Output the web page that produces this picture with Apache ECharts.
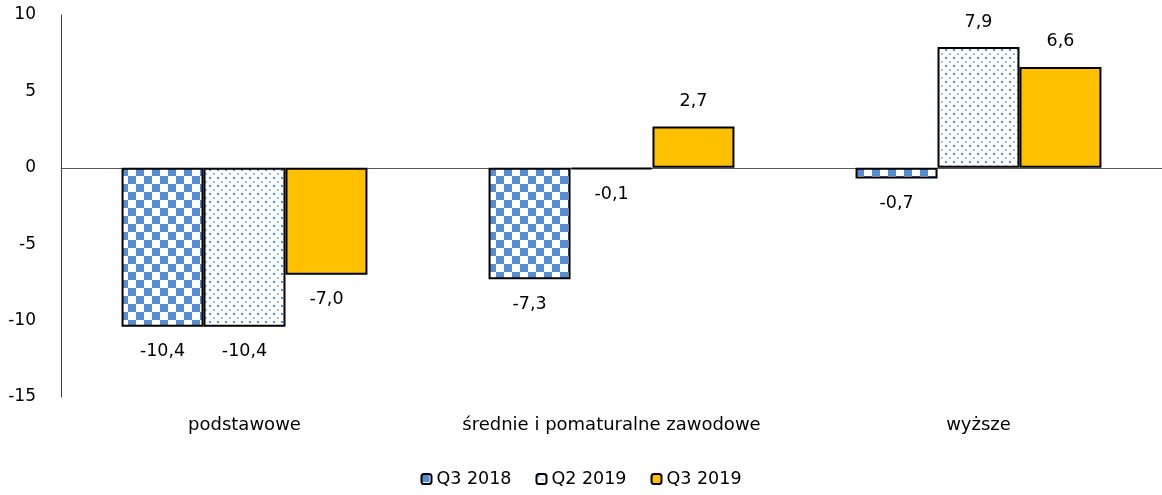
<!DOCTYPE html>
<html>
<head>
<meta charset="utf-8">
<script src="https://cdn.jsdelivr.net/npm/echarts@6/dist/echarts.min.js"></script>
<style>
  html, body { margin: 0; padding: 0; background: #fff; }
  #chart { width: 1162px; height: 495px; }
</style>
</head>
<body>
<div id="chart"></div>
<script>
const categories = ['podstawowe', 'średnie i pomaturalne zawodowe', 'wyższe']
const seriesNames = ['Q3 2018', 'Q2 2019', 'Q3 2019']
const q3_2018 = [-10.4, -7.3, -0.7]
const q2_2019 = [-10.4, -0.1, 7.9]
const q3_2019 = [-7.0, 2.7, 6.6]
const yTicks = [-15, -10, -5, 0, 5, 10]

const FONT = 'DejaVu Sans'
const FS = 17.5

// checkerboard fill
function checker() {
    const c = document.createElement('canvas')
    c.width = 16; c.height = 16
    const g = c.getContext('2d')
    g.fillStyle = '#fff'
    g.fillRect(0, 0, 16, 16)
    g.fillStyle = '#558ED5'
    g.fillRect(0, 0, 8, 8)
    g.fillRect(8, 8, 8, 8)
    return c
}

// small dots fill
function dots() {
    const c = document.createElement('canvas')
    c.width = 8; c.height = 8
    const g = c.getContext('2d')
    g.fillStyle = '#fff'
    g.fillRect(0, 0, 8, 8)
    g.fillStyle = '#558ED5'
    g.fillRect(1, 1, 2, 2)
    g.fillStyle = '#9DBCE6'
    g.fillRect(5, 5, 2, 2)
    return c
}

const fills = [
    { image: checker(), repeat: 'repeat' },
    { image: dots(), repeat: 'repeat' },
    '#FFC000'
]

const fmt = v => v.toFixed(1).replace('.', ',')

function makeData(arr) {
    return arr.map(v => ({
        value: v,
        label: { position: v < 0 ? 'bottom' : 'top' }
    }))
}

const chart = echarts.init(document.getElementById('chart'))

chart.setOption({
    animation: false,
    textStyle: { fontFamily: FONT },
    grid: { left: 61, top: 15, width: 1105, height: 382 },
    legend: {
        bottom: 2,
        itemWidth: 10,
        itemHeight: 10,
        itemGap: 24,
        textStyle: { fontSize: FS, color: '#000', fontFamily: FONT },
        data: seriesNames
    },
    xAxis: {
        type: 'category',
        data: categories,
        axisLine: { onZero: true, lineStyle: { color: '#595959', width: 1 } },
        axisTick: { show: false },
        axisLabel: { interval: 0, margin: 19, color: '#000', fontSize: FS + 0.5, fontFamily: FONT },
        position: 'bottom'
    },
    yAxis: {
        type: 'value',
        min: yTicks[0],
        max: yTicks[yTicks.length - 1],
        interval: 5,
        axisLine: { show: true, lineStyle: { color: '#404040' } },
        axisTick: { show: false },
        splitLine: { show: false },
        axisLabel: { color: '#000', fontSize: 17, margin: 25, fontFamily: FONT }
    },
    series: [q3_2018, q2_2019, q3_2019].map((arr, i) => ({
        name: seriesNames[i],
        type: 'bar',
        data: makeData(arr),
        barGap: '0%',
        barCategoryGap: '33%',
        itemStyle: { color: fills[i], borderColor: '#000', borderWidth: 2 },
        label: {
            show: true,
            distance: 16,
            color: '#000',
            fontSize: FS,
            fontFamily: FONT,
            formatter: p => fmt(p.value)
        }
    }))
})
</script>
</body>
</html>
